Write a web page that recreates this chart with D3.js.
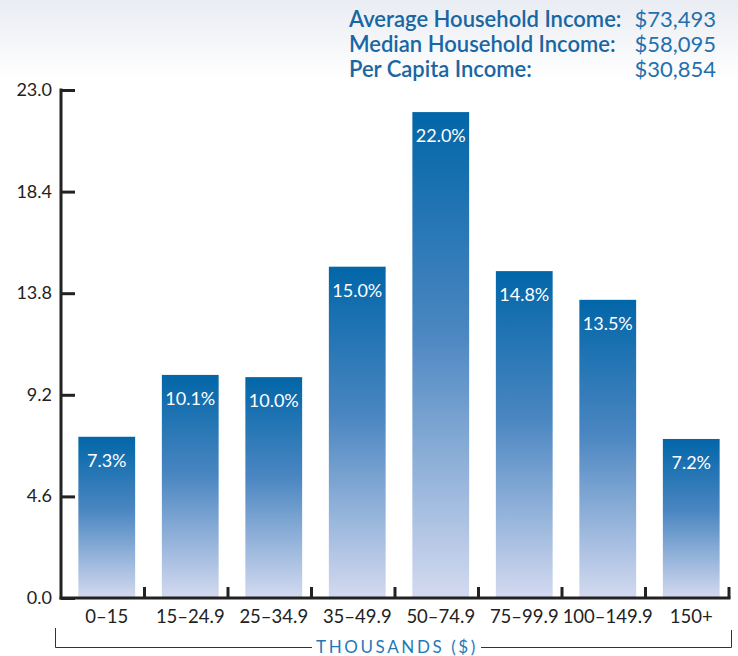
<!DOCTYPE html>
<html>
<head>
<meta charset="utf-8">
<script src="https://cdn.jsdelivr.net/npm/d3@7"></script>
<style>
  body { margin: 0; background: #fff; }
  svg { display: block; font-family: Lato, "Open Sans", sans-serif; }
</style>
</head>
<body>
<div id="chart"></div>
<script>
const categories = ["0–15", "15–24.9", "25–34.9", "35–49.9", "50–74.9", "75–99.9", "100–149.9", "150+"];
const shares = [7.3, 10.1, 10.0, 15.0, 22.0, 14.8, 13.5, 7.2];
const yTicks = [0, 4.6, 9.2, 13.8, 18.4, 23.0];
const incomeLabels = ["Average Household Income:", "Median Household Income:", "Per Capita Income:"];
const incomeValues = ["$73,493", "$58,095", "$30,854"];

const width = 738, height = 656;
const x0 = 61, x1 = 729, yBase = 598, yTop = 90;
const barShift = 4;

const svg = d3.select("#chart")
  .append("svg")
  .attr("width", width)
  .attr("height", height);

const defs = svg.append("defs");

const bg = defs.append("linearGradient")
  .attr("id", "bg")
  .attr("x1", 0).attr("y1", 0).attr("x2", 0).attr("y2", 1);
bg.append("stop").attr("offset", "0%").attr("stop-color", "#e9ecf2");
bg.append("stop").attr("offset", "100%").attr("stop-color", "#ffffff");

const barGrad = defs.append("linearGradient")
  .attr("id", "bar")
  .attr("x1", 0).attr("y1", 0).attr("x2", 0).attr("y2", 1);
barGrad.append("stop").attr("offset", "0%").attr("stop-color", "#0266a8");
barGrad.append("stop").attr("offset", "45%").attr("stop-color", "#4a86c1");
barGrad.append("stop").attr("offset", "100%").attr("stop-color", "#d4daf0");

svg.append("rect")
  .attr("x", 0).attr("y", 0)
  .attr("width", width).attr("height", 80)
  .attr("fill", "url(#bg)");

const x = d3.scaleBand()
  .domain(categories)
  .range([x0, x1])
  .paddingInner(0.32)
  .paddingOuter(0.16);

const y = d3.scaleLinear()
  .domain([0, 23])
  .range([yBase, yTop]);

// bars
svg.append("g")
  .selectAll("rect")
  .data(shares)
  .join("rect")
  .attr("x", (d, i) => x(categories[i]) + barShift)
  .attr("y", d => y(d))
  .attr("width", x.bandwidth())
  .attr("height", d => y(0) - y(d))
  .attr("fill", "url(#bar)");

svg.append("g")
  .attr("font-size", 18)
  .attr("font-weight", 400)
  .attr("fill", "#fff")
  .attr("text-anchor", "middle")
  .selectAll("text")
  .data(shares)
  .join("text")
  .attr("x", (d, i) => x(categories[i]) + barShift + x.bandwidth() / 2)
  .attr("y", d => y(d) + 30)
  .text(d => d.toFixed(1) + "%");

// y axis
const yAxis = svg.append("g")
  .attr("transform", `translate(${x0},0)`)
  .call(d3.axisRight(y).tickValues(yTicks).tickSize(14).tickFormat(""));
yAxis.select(".domain").remove();
yAxis.selectAll(".tick line").attr("stroke", "#222").attr("stroke-width", 3);

svg.append("g")
  .attr("font-size", 18)
  .attr("fill", "#222")
  .attr("text-anchor", "end")
  .selectAll("text")
  .data(yTicks)
  .join("text")
  .attr("x", 52)
  .attr("y", d => y(d) + 6)
  .text(d => d.toFixed(1));

svg.append("line")
  .attr("x1", x0).attr("x2", x0)
  .attr("y1", yTop - 1.5).attr("y2", yBase + 1.5)
  .attr("stroke", "#222").attr("stroke-width", 3);

// x axis
svg.append("line")
  .attr("x1", x0 - 1.5).attr("x2", x1 + 1.5)
  .attr("y1", yBase).attr("y2", yBase)
  .attr("stroke", "#222").attr("stroke-width", 3);

const bounds = categories.map(c => x(c) - x.step() * x.paddingInner() / 2 + x.step());
svg.append("g")
  .selectAll("line")
  .data(bounds)
  .join("line")
  .attr("x1", d => d).attr("x2", d => d)
  .attr("y1", yBase - 11).attr("y2", yBase)
  .attr("stroke", "#222").attr("stroke-width", 3);

svg.append("g")
  .attr("font-size", 18.5)
  .attr("fill", "#222")
  .attr("text-anchor", "middle")
  .selectAll("text")
  .data(categories)
  .join("text")
  .attr("x", d => x(d) + barShift + x.bandwidth() / 2)
  .attr("y", 623)
  .text(d => d);

// bracket
const bracket = svg.append("g")
  .attr("fill", "none")
  .attr("stroke", "#333")
  .attr("stroke-width", 1);
bracket.append("path").attr("d", "M55.5,628V647.5H312");
bracket.append("path").attr("d", "M481,647.5H731.5V630");

svg.append("text")
  .attr("x", 397)
  .attr("y", 653)
  .attr("text-anchor", "middle")
  .attr("font-size", 17)
  .attr("letter-spacing", 2.6)
  .attr("fill", "#1f78b8")
  .text("THOUSANDS ($)");

// income summary
svg.append("g")
  .attr("font-size", 22)
  .attr("font-weight", 600)
  .attr("fill", "#1866a3")
  .selectAll("text")
  .data(incomeLabels)
  .join("text")
  .attr("x", 349)
  .attr("y", (d, i) => 27 + i * 25)
  .text(d => d);

svg.append("g")
  .attr("font-size", 22)
  .attr("fill", "#1f70ad")
  .attr("text-anchor", "end")
  .selectAll("text")
  .data(incomeValues)
  .join("text")
  .attr("x", 716)
  .attr("y", (d, i) => 27 + i * 25)
  .text(d => d);
</script>
</body>
</html>
